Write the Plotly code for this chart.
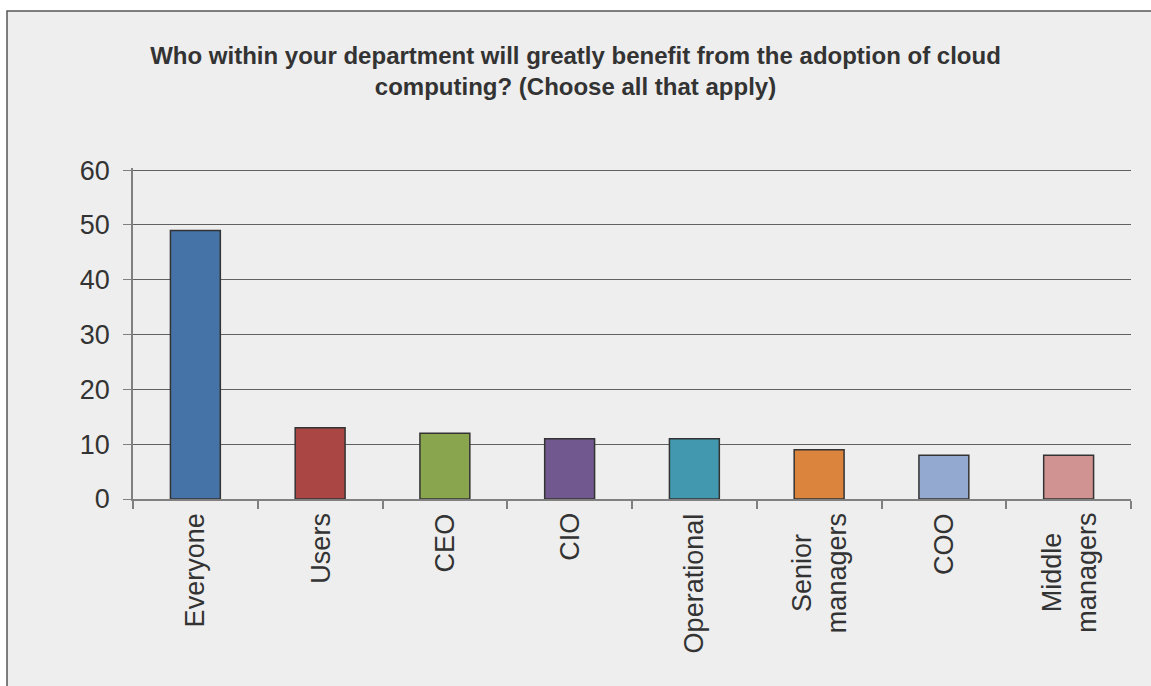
import plotly.graph_objects as go

# Survey results: who benefits from cloud adoption
categories = ["Everyone", "Users", "CEO", "CIO", "Operational",
              "Senior<br>managers", "COO", "Middle<br>managers"]
responses = [49, 13, 12, 11, 11, 9, 8, 8]
bar_colors = ["#4572A7", "#AA4643", "#89A54E", "#71588F",
              "#4198AF", "#DB843D", "#93A9CF", "#D19392"]
y_ticks = [0, 10, 20, 30, 40, 50, 60]

title_text = ("Who within your department will greatly benefit from the adoption of cloud"
              "<br>computing? (Choose all that apply)")

FONT = "Liberation Sans, Arial, sans-serif"
W, H = 1151, 686
Y_MAX = 60.4  # a little headroom so the top gridline is drawn
L, R, T, B = 133, 20, 168, 187
pw, ph = W - L - R, H - T - B

fig = go.Figure(
    go.Bar(
        x=categories,
        y=responses,
        marker=dict(color=bar_colors, line=dict(color="#333333", width=1.5)),
        width=0.4,
        showlegend=False,
    )
)

# chart frame behind the plot area
fig.add_shape(
    type="rect", xref="paper", yref="paper", layer="below",
    x0=(7 - L) / pw, x1=(W + 5 - L) / pw,
    y0=-(H + 5 - (T + ph)) / ph, y1=(T + ph - 11) / ph,
    fillcolor="#EEEEEE", line=dict(color="#555555", width=1.5),
)

# category labels, rotated, centred under each bar
for cat in categories:
    fig.add_annotation(
        x=cat, y=0, xref="x", yref="paper",
        text=cat, textangle=-90, showarrow=False,
        xanchor="center", yanchor="top", align="center",
        yshift=-12,
        font=dict(family=FONT, size=27, color="#333333"),
    )

fig.update_layout(
    width=W, height=H,
    margin=dict(l=L, r=R, t=T, b=B),
    paper_bgcolor="white",
    plot_bgcolor="rgba(0,0,0,0)",
    title=dict(
        text=title_text, x=0.5, xref="container", xanchor="center",
        y=1 - 64 / H, yref="container", yanchor="top",
        font=dict(family=FONT, size=24, color="#333333", weight="bold"),
    ),
    xaxis=dict(
        type="category",
        showticklabels=False,
        showgrid=False,
        ticks="outside", tickson="boundaries", ticklen=8,
        tickcolor="#808080", tickwidth=1.5,
        showline=True, linecolor="#808080", linewidth=1.5,
        range=[-0.5, len(categories) - 0.5],
    ),
    yaxis=dict(
        range=[0, Y_MAX],
        tickvals=y_ticks,
        ticks="outside", ticklen=8, tickcolor="#808080", tickwidth=1,
        showline=True, linecolor="#808080", linewidth=1.5,
        showgrid=True, gridcolor="#606060", gridwidth=1,
        zeroline=False,
        ticklabelstandoff=8,
        tickfont=dict(family=FONT, size=27, color="#333333"),
    ),
)

fig.write_html("out.html")
